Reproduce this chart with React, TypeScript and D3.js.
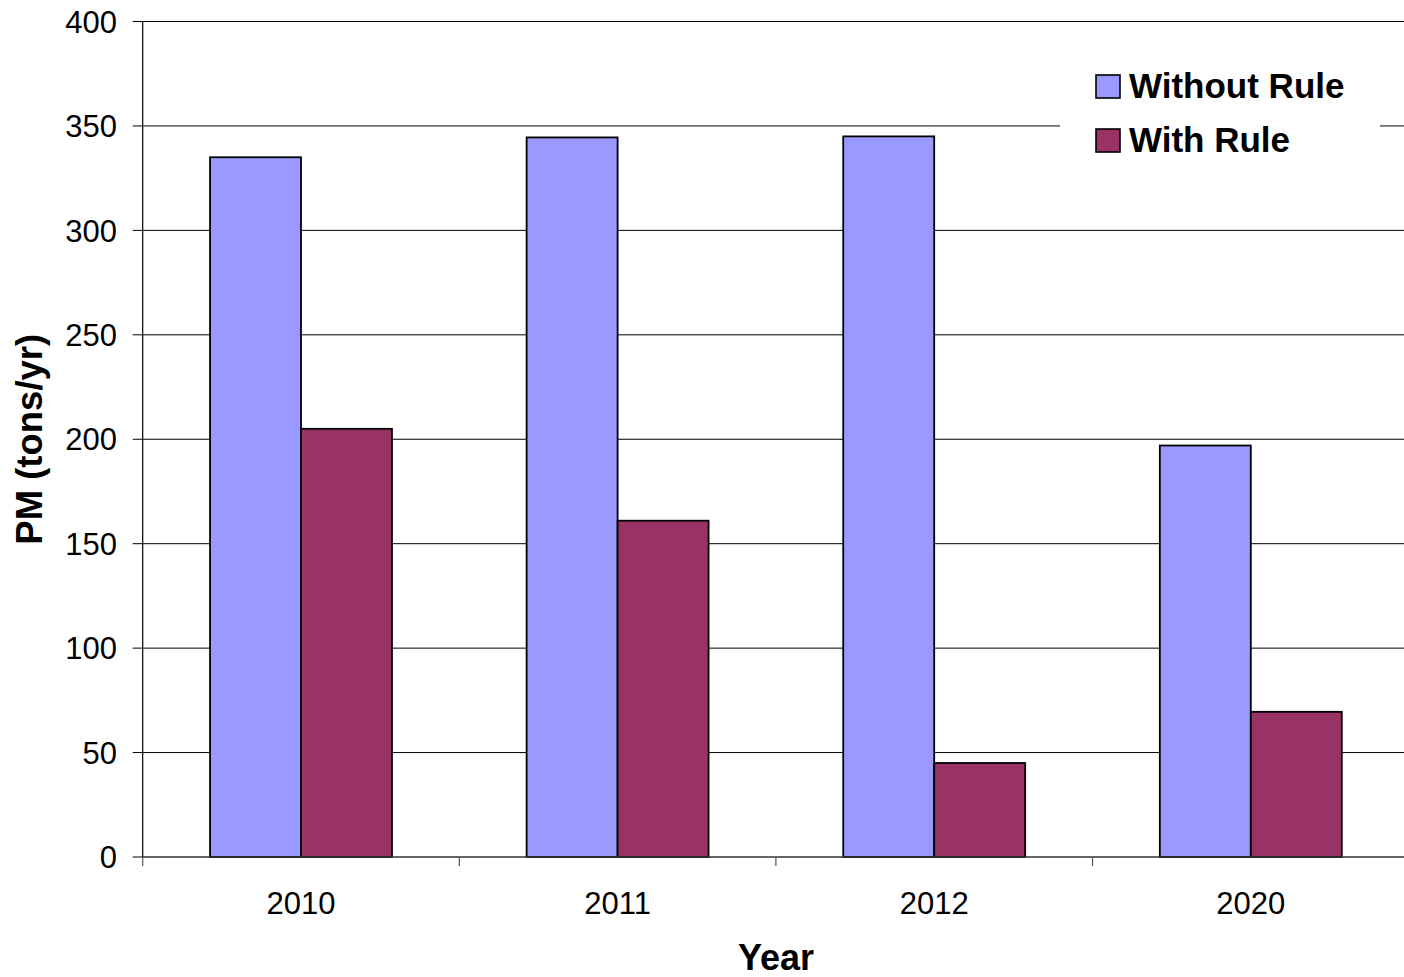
import React from "react";
import * as d3 from "d3";

const years = ["2010", "2011", "2012", "2020"];
const seriesNames = ["Without Rule", "With Rule"];
const withoutRule = [335, 344.5, 345, 197];
const withRule = [205, 161, 45, 69.5];
const yTicks = [0, 50, 100, 150, 200, 250, 300, 350, 400];
const seriesColors = ["#9999FF", "#993366"];

const W = 1404;
const H = 977;
const left = 142.7;
const top = 21.5;
const bottom = 857;
const step = 316.6;

export default function App() {
  const x = d3.scaleBand<string>().domain(years).range([left, left + step * years.length]).padding(0);
  const inner = d3
    .scaleBand<string>()
    .domain(seriesNames)
    .range([0, x.bandwidth()])
    .paddingInner(0)
    .paddingOuter(0.74);
  const y = d3.scaleLinear().domain([0, 400]).range([bottom, top]);
  const values = [withoutRule, withRule];
  const font = "Arial, 'Liberation Sans', sans-serif";
  const boundaries = d3.range(years.length + 1).map((i) => left + i * step);

  return (
    <svg
      width={W}
      height={H}
      style={{ position: "absolute", left: 0, top: 0, background: "#fff" }}
      fontFamily={font}
    >
      <rect x={0} y={0} width={W} height={H} fill="#fff" />
      {/* horizontal gridlines */}
      {yTicks.filter((t) => t > 0).map((t) => (
        <line key={t} x1={left} x2={W} y1={y(t)} y2={y(t)} stroke="#000" strokeWidth={1} />
      ))}
      {/* bars */}
      {years.map((yr, i) =>
        seriesNames.map((s, j) => (
          <rect
            key={yr + s}
            x={(x(yr) as number) + (inner(s) as number)}
            y={y(values[j][i])}
            width={inner.bandwidth()}
            height={y(0) - y(values[j][i])}
            fill={seriesColors[j]}
            stroke="#000"
            strokeWidth={1.8}
          />
        ))
      )}
      {/* axes */}
      <line x1={left} x2={left} y1={top} y2={bottom} stroke="#000" strokeWidth={1.2} />
      <line x1={left} x2={W} y1={bottom} y2={bottom} stroke="#333" strokeWidth={1.5} />
      {yTicks.map((t) => (
        <g key={"yt" + t}>
          <line x1={left - 10} x2={left} y1={y(t)} y2={y(t)} stroke="#000" strokeWidth={1} />
          <text x={117} y={y(t)} dy="0.36em" textAnchor="end" fontSize={31} fill="#000">
            {t}
          </text>
        </g>
      ))}
      {boundaries.map((b, i) => (
        <line key={"xt" + i} x1={b} x2={b} y1={bottom} y2={bottom + 9} stroke="#555" strokeWidth={1.2} />
      ))}
      {years.map((yr) => (
        <text
          key={"xl" + yr}
          x={(x(yr) as number) + x.bandwidth() / 2}
          y={914}
          textAnchor="middle"
          fontSize={31}
          fill="#000"
        >
          {yr}
        </text>
      ))}
      {/* axis titles */}
      <text x={776} y={970} textAnchor="middle" fontSize={36} fontWeight="bold" fill="#000">
        Year
      </text>
      <text
        transform={`translate(42, ${(top + bottom) / 2}) rotate(-90)`}
        textAnchor="middle"
        fontSize={36.5}
        fontWeight="bold"
        fill="#000"
      >
        PM (tons/yr)
      </text>
      {/* legend */}
      <g>
        <rect x={1060} y={58} width={320} height={112} fill="#fff" />
        {seriesNames.map((s, j) => (
          <g key={"lg" + s} transform={`translate(1096, ${75 + j * 54})`}>
            <rect x={0} y={0} width={24} height={23} fill={seriesColors[j]} stroke="#000" strokeWidth={1.6} />
            <text x={33} y={23} fontSize={35} fontWeight="bold" fill="#000">
              {s}
            </text>
          </g>
        ))}
      </g>
    </svg>
  );
}
